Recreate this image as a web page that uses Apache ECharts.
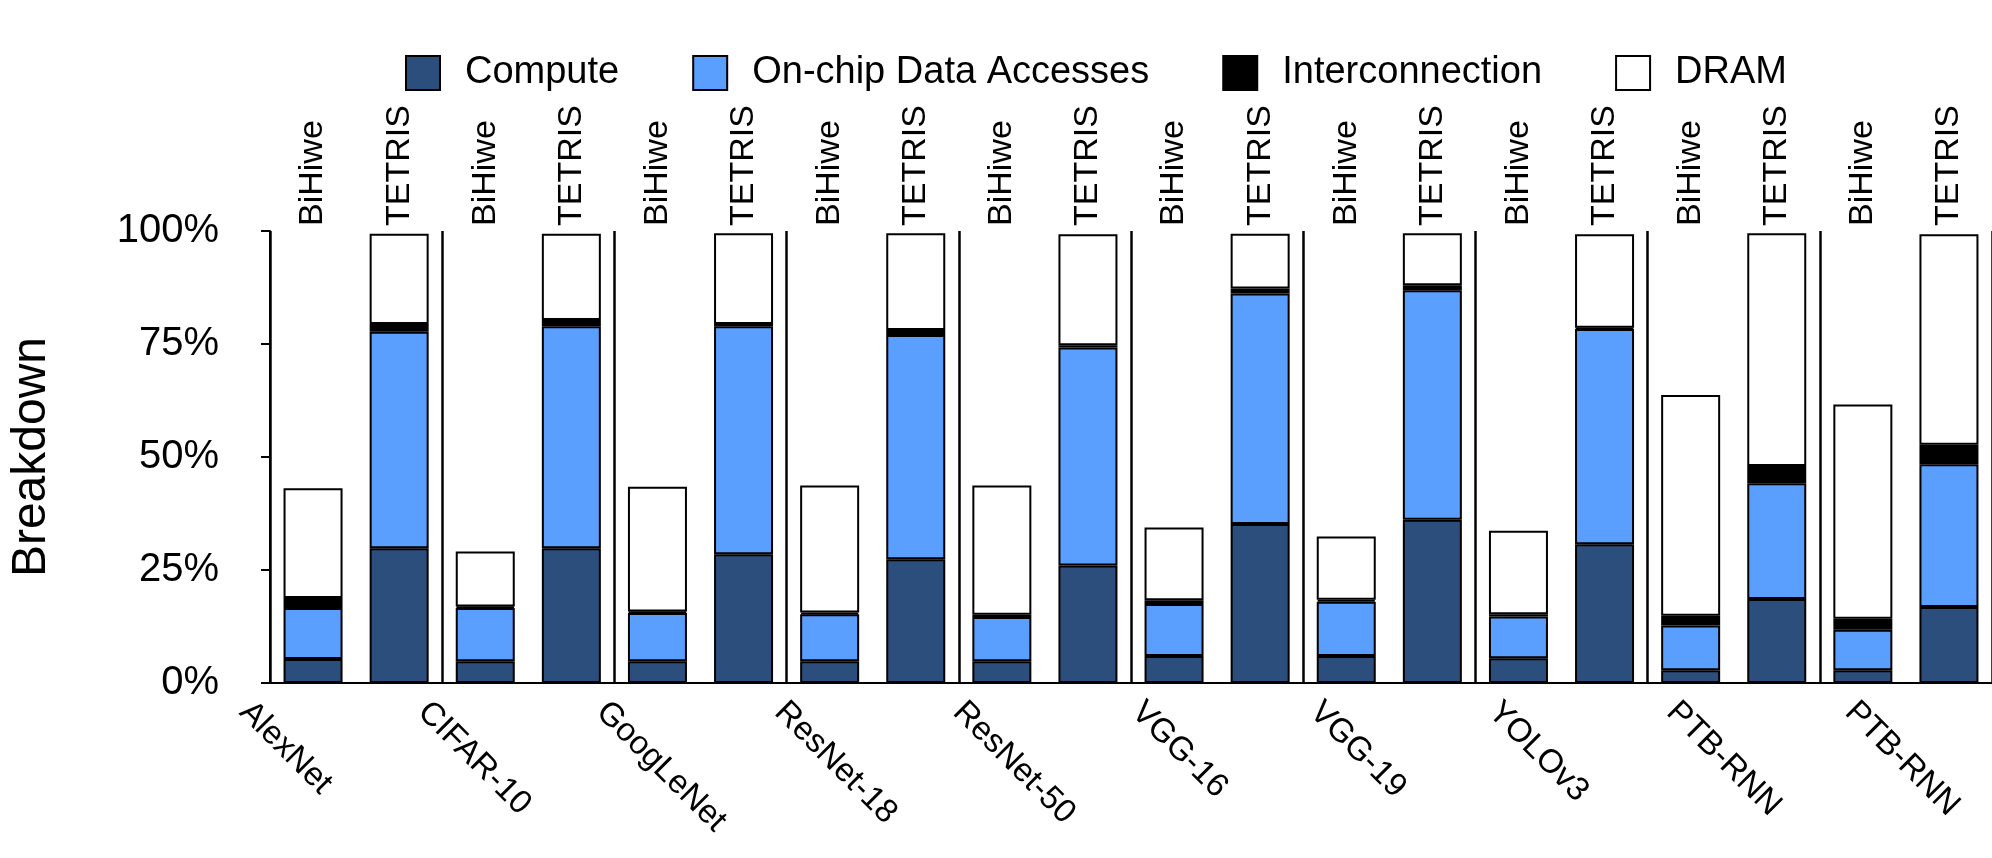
<!DOCTYPE html>
<html>
<head>
<meta charset="utf-8">
<script src="https://cdn.jsdelivr.net/npm/echarts@6/dist/echarts.min.js"></script>
<style>
  html, body { margin: 0; padding: 0; background: #fff; }
  #chart { width: 1992px; height: 858px; }
</style>
</head>
<body>
<div id="chart"></div>
<script>
// workloads, one group of two bars each
const groups = ['AlexNet', 'CIFAR-10', 'GoogLeNet', 'ResNet-18', 'ResNet-50',
                'VGG-16', 'VGG-19', 'YOLOv3', 'PTB-RNN', 'PTB-RNN'];
const systems = ['BiHiwe', 'TETRIS'];
const yTicks = [0, 25, 50, 75, 100];

// values in % of total, slot order: BiHiwe, TETRIS, BiHiwe, TETRIS ...
const compute      = [5.3, 29.8, 4.8, 29.8, 4.8, 28.5, 4.8, 27.4, 4.8, 26.0, 6.0, 35.2, 6.0, 36.1, 5.5, 30.7, 2.8, 18.6, 2.8, 16.8];
const onchip       = [11.3, 47.9, 11.8, 49.1, 10.7, 50.4, 10.4, 49.6, 9.8, 48.2, 11.5, 51.0, 12.0, 50.8, 9.2, 47.6, 9.9, 25.6, 9.0, 31.6];
const interconnect = [2.2, 1.7, 0.3, 1.4, 0.3, 0.5, 0.4, 1.1, 0.5, 0.5, 0.8, 1.1, 0.4, 1.1, 0.5, 0.3, 2.2, 3.8, 2.4, 4.3];
const dram         = [24.3, 20.0, 12.2, 19.1, 27.6, 20.1, 28.1, 21.4, 28.6, 24.6, 16.1, 12.1, 14.0, 11.5, 18.5, 20.7, 48.8, 51.5, 47.4, 46.6];

const font = 'Liberation Sans, Arial, Helvetica, sans-serif';

// one slot per bar
const slots = [];
groups.forEach(function (g, i) {
  systems.forEach(function (s) { slots.push(i + ':' + s); });
});

const chart = echarts.init(document.getElementById('chart'), null, { renderer: 'canvas' });

function barSeries(name, data, color) {
  return {
    name: name,
    type: 'bar',
    stack: 'total',
    barWidth: 59,
    xAxisIndex: 1,
    yAxisIndex: 0,
    data: data,
    itemStyle: { color: color, borderColor: '#000', borderWidth: 2 },
    emphasis: { disabled: true }
  };
}

const option = {
  animation: false,
  backgroundColor: '#fff',
  textStyle: { fontFamily: font, color: '#000' },
  legend: {
    top: 49,
    left: 400,
    itemWidth: 34,
    itemHeight: 34,
    itemGap: 73,
    selectedMode: false,
    icon: 'rect',
    textStyle: { fontSize: 38, color: '#000', fontFamily: font, padding: [0, 0, 0, 20] },
    data: ['Compute', 'On-chip Data Accesses', 'Interconnection', 'DRAM']
  },
  grid: [
    { left: 214, right: -6, top: 231, bottom: 175 },
    { left: 200, width: 1784, top: 231, bottom: 175 }
  ],
  xAxis: [
    {
      // top: BiHiwe / TETRIS labels and the 100% frame line
      type: 'category',
      gridIndex: 0,
      position: 'top',
      data: slots,
      axisLine: { show: true, lineStyle: { color: '#000', width: 2 } },
      axisTick: { show: false },
      axisLabel: {
        interval: 0,
        rotate: 90,
        margin: 5,
        fontSize: 34,
        color: '#000',
        fontFamily: font,
        padding: [0, 0, 10, 0],
        formatter: function (v) { return v.split(':')[1]; }
      },
      splitLine: { show: false }
    },
    {
      // bottom axis line + group separators
      type: 'category',
      gridIndex: 0,
      position: 'bottom',
      data: slots,
      axisLine: { show: true, lineStyle: { color: '#000', width: 2 } },
      axisTick: { show: false },
      axisLabel: { show: false },
      splitLine: {
        show: true,
        interval: function (i) { return i % 2 === 0; },
        lineStyle: { color: '#000', width: 2.5 }
      }
    },
    {
      // workload names, slanted
      type: 'category',
      gridIndex: 1,
      position: 'bottom',
      data: slots,
      axisLine: { show: false },
      axisTick: { show: false },
      axisLabel: {
        interval: 0,
        rotate: -45,
        margin: 24,
        fontSize: 33,
        color: '#000',
        fontFamily: font,
        formatter: function (v, i) { return i % 2 === 0 ? groups[i / 2] : ''; }
      },
      splitLine: { show: false }
    }
  ],
  yAxis: [
    {
      type: 'value',
      gridIndex: 0,
      min: yTicks[0],
      max: yTicks[yTicks.length - 1],
      interval: 25,
      name: 'Breakdown',
      nameLocation: 'middle',
      nameRotate: 90,
      nameGap: 214,
      nameTextStyle: { fontSize: 48, color: '#000', fontFamily: font },
      axisLine: { show: true, lineStyle: { color: '#000', width: 2 } },
      axisTick: { show: true, length: 9, lineStyle: { color: '#000', width: 2 } },
      axisLabel: { fontSize: 40, margin: 51, color: '#000', fontFamily: font, formatter: '{value}%' },
      splitLine: { show: false }
    },
    { type: 'value', gridIndex: 1, show: false, min: 0, max: 100 }
  ],
  series: [
    barSeries('Compute', compute, '#2c4e7c'),
    barSeries('On-chip Data Accesses', onchip, '#5a9efe'),
    barSeries('Interconnection', interconnect, '#000000'),
    barSeries('DRAM', dram, '#ffffff')
  ]
};

chart.setOption(option);
</script>
</body>
</html>
